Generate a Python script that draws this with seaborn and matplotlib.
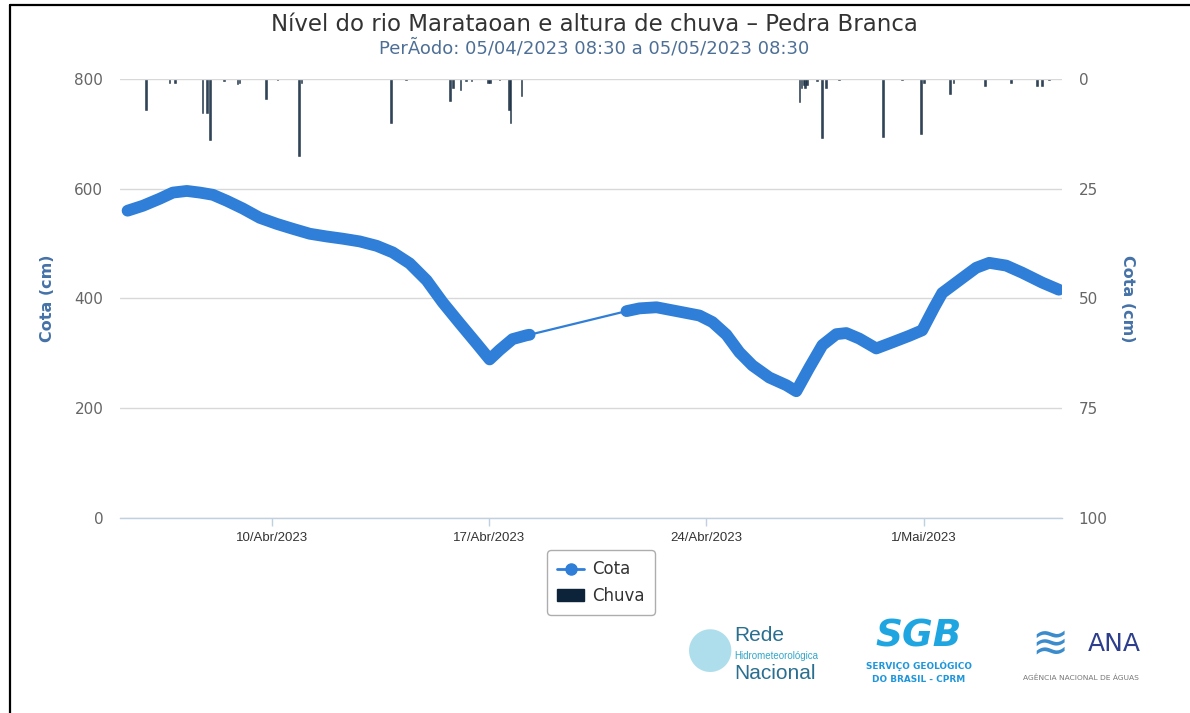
"""
Nivel do rio Marataoan e altura de chuva - Pedra Branca (recriacao).
"""

import numpy as np
import pandas as pd
import matplotlib
matplotlib.use('Agg')
import matplotlib.pyplot as plt
import seaborn as sns
from matplotlib.lines import Line2D
from matplotlib.patches import Patch

# Cota (cm) - first block of readings (before the gap)
cota_times_a = ['2023-04-05 08:30', '2023-04-05 20:20', '2023-04-06 09:30', '2023-04-06 19:30',
                '2023-04-07 06:20', '2023-04-07 16:25', '2023-04-08 02:25', '2023-04-08 13:15',
                '2023-04-09 01:35', '2023-04-09 14:45', '2023-04-10 03:50', '2023-04-10 16:15',
                '2023-04-11 05:20', '2023-04-11 18:30', '2023-04-12 06:50', '2023-04-12 20:00',
                '2023-04-13 09:05', '2023-04-13 21:30', '2023-04-14 10:35', '2023-04-14 23:45',
                '2023-04-15 12:05', '2023-04-16 01:15', '2023-04-16 14:20', '2023-04-17 00:25',
                '2023-04-17 08:05', '2023-04-17 18:10', '2023-04-18 05:00', '2023-04-18 07:20']
cota_values_a = [560, 569, 582, 593, 596, 593, 589, 578,
                 564, 547, 536, 527, 518, 513, 509, 504,
                 496, 484, 464, 433, 393, 355, 318, 289,
                 306, 326, 333, 334]

# Cota (cm) - second block of readings (after the gap)
cota_times_b = ['2023-04-21 10:15', '2023-04-21 20:15', '2023-04-22 09:25', '2023-04-23 03:10',
                '2023-04-23 18:35', '2023-04-24 04:40', '2023-04-24 15:30', '2023-04-25 01:30',
                '2023-04-25 11:35', '2023-04-26 00:40', '2023-04-26 13:50', '2023-04-26 21:30',
                '2023-04-27 07:35', '2023-04-27 17:40', '2023-04-28 04:25', '2023-04-28 12:10',
                '2023-04-28 22:10', '2023-04-29 11:20', '2023-04-29 23:40', '2023-04-30 12:50',
                '2023-04-30 22:50', '2023-05-01 08:10', '2023-05-01 14:20', '2023-05-02 03:25',
                '2023-05-02 16:35', '2023-05-03 02:40', '2023-05-03 15:45', '2023-05-04 04:10',
                '2023-05-04 19:35', '2023-05-05 08:30']
cota_values_b = [377, 382, 384, 376, 369, 357, 334, 302,
                 278, 256, 242, 231, 274, 315, 335, 337,
                 327, 309, 320, 332, 342, 384, 410, 433,
                 456, 465, 460, 447, 429, 416]

# Chuva (cm) - hourly rain totals
chuva_times = ['2023-04-05 22:30', '2023-04-06 17:00', '2023-04-06 21:00', '2023-04-07 18:30',
               '2023-04-07 22:00', '2023-04-08 00:00', '2023-04-08 11:00', '2023-04-08 21:30',
               '2023-04-08 23:00', '2023-04-09 19:30', '2023-04-10 04:30', '2023-04-10 21:00',
               '2023-04-10 23:00', '2023-04-13 20:00', '2023-04-14 08:00', '2023-04-15 18:00',
               '2023-04-15 20:00', '2023-04-16 02:00', '2023-04-16 06:00', '2023-04-16 10:30',
               '2023-04-16 23:00', '2023-04-17 00:30', '2023-04-17 08:00', '2023-04-17 15:30',
               '2023-04-17 16:30', '2023-04-18 01:00', '2023-04-27 00:00', '2023-04-27 01:30',
               '2023-04-27 03:00', '2023-04-27 04:30', '2023-04-27 06:00', '2023-04-27 13:30',
               '2023-04-27 17:30', '2023-04-27 20:30', '2023-04-28 06:30', '2023-04-29 16:30',
               '2023-04-30 07:30', '2023-04-30 22:00', '2023-05-01 00:30', '2023-05-01 20:30',
               '2023-05-01 23:00', '2023-05-02 23:30', '2023-05-03 19:30', '2023-05-04 15:30',
               '2023-05-04 19:30', '2023-05-05 01:00']
chuva_values = [7.1, 1.0, 0.8, 7.7,
                7.7, 13.9, 0.5, 1.1,
                1.0, 4.6, 0.3, 17.5,
                1.0, 10.0, 0.3, 5.0,
                2.0, 2.5, 0.4, 0.4,
                1.0, 0.8, 0.3, 7.0,
                10.0, 3.9, 5.2, 2.0,
                1.4, 2.0, 1.4, 0.4,
                13.4, 2.0, 0.3, 13.2,
                0.3, 12.5, 1.0, 3.4,
                1.0, 1.5, 0.8, 1.5,
                1.5, 0.3]

x_tick_dates = ['2023-04-10', '2023-04-17', '2023-04-24', '2023-05-01']
x_tick_labels = ['10/Abr/2023', '17/Abr/2023', '24/Abr/2023', '1/Mai/2023']
cota_ticks = [0, 200, 400, 600, 800]
chuva_ticks = [0, 25, 50, 75, 100]

COTA_COLOR = '#2f7ed8'
CHUVA_COLOR = '#0d233a'
LABEL_BLUE = '#4572a7'
TICK_GREY = '#666666'
NARROW = ['Liberation Sans Narrow', 'Liberation Sans']

sns.set_theme(style='white')
plt.rcParams['font.family'] = ['DejaVu Sans']

df_a = pd.DataFrame({'time': pd.to_datetime(cota_times_a), 'cota': cota_values_a})
df_b = pd.DataFrame({'time': pd.to_datetime(cota_times_b), 'cota': cota_values_b})
df_all = pd.concat([df_a, df_b], ignore_index=True)
df_rain = pd.DataFrame({'time': pd.to_datetime(chuva_times), 'chuva': chuva_values})

fig = plt.figure(figsize=(11.9, 7.13), dpi=100)
ax = fig.add_axes([0.1008, 0.2735, 0.7916, 0.6157])
ax2 = ax.twinx()

# rain bars hang from the top (inverted right axis)
ax2.bar(df_rain['time'], df_rain['chuva'], width=0.055, color=CHUVA_COLOR,
        edgecolor=CHUVA_COLOR, linewidth=0.4, alpha=0.85, zorder=2)
ax2.set_ylim(100, 0)

# thin connector through every reading, thick band where readings are dense
sns.lineplot(data=df_all, x='time', y='cota', ax=ax, color=COTA_COLOR, lw=1.6,
             sort=False, estimator=None, zorder=3)
for seg in (df_a, df_b):
    sns.lineplot(data=seg, x='time', y='cota', ax=ax, color=COTA_COLOR, lw=8.5,
                 sort=False, estimator=None, solid_capstyle='round',
                 solid_joinstyle='round', zorder=4)

ax.set_zorder(ax2.get_zorder() + 1)
ax.patch.set_visible(False)

start = df_all['time'].min() - pd.Timedelta(hours=5.9)
end = df_all['time'].max() + pd.Timedelta(hours=2.4)
ax.set_xlim(start, end)
ax.set_ylim(0, 800)
ax.set_yticks(cota_ticks)
ax2.set_yticks(chuva_ticks)

ax.set_xticks(pd.to_datetime(x_tick_dates))
ax.set_xticklabels(x_tick_labels)

ax.grid(axis='y', color='#d8d8d8', lw=1)
ax.grid(axis='x', visible=False)
ax2.grid(False)

for a in (ax, ax2):
    for side in ('top', 'left', 'right', 'bottom'):
        a.spines[side].set_visible(False)
ax.spines['bottom'].set_visible(True)
ax.spines['bottom'].set_color('#c0d0e0')
ax.spines['bottom'].set_linewidth(1)

ax.tick_params(axis='x', length=6, width=1, color='#c0d0e0', labelsize=9.5,
               labelcolor='#333333', pad=4, direction='out', bottom=True)
ax.tick_params(axis='y', length=0, labelsize=11, labelcolor=TICK_GREY, pad=12)
ax2.tick_params(axis='y', length=0, labelsize=11, labelcolor=TICK_GREY, pad=12)
for lab in ax.get_xticklabels():
    lab.set_family(NARROW)

ax.set_xlabel('')
ax.set_ylabel('Cota (cm)', color=LABEL_BLUE, fontsize=11.5, fontweight='bold', labelpad=14)
ax2.set_ylabel('Cota (cm)', color=LABEL_BLUE, fontsize=11.5, fontweight='bold',
               rotation=270, labelpad=20)

fig.text(0.4995, 0.965, 'Nível do rio Marataoan e altura de chuva – Pedra Branca',
         ha='center', va='center', fontsize=16.5, color='#333333')
fig.text(0.4995, 0.932, 'PerÃodo: 05/04/2023 08:30 a 05/05/2023 08:30',
         ha='center', va='center', fontsize=13, color='#4d6f96')

handles = [Line2D([0], [0], color=COTA_COLOR, lw=2, marker='o', markersize=8),
           Patch(facecolor=CHUVA_COLOR, edgecolor=CHUVA_COLOR)]
leg = fig.legend(handles, ['Cota', 'Chuva'], loc='center', bbox_to_anchor=(0.505, 0.183),
                 frameon=True, fancybox=True, fontsize=12, handlelength=1.6,
                 handletextpad=0.5, borderpad=0.6, labelspacing=0.5)
leg.get_frame().set_edgecolor('#999999')
leg.get_frame().set_linewidth(1)
for t in leg.get_texts():
    t.set_color('#333333')

# logos (approximated with text)
fig.text(0.617, 0.108, 'Rede', fontsize=15, color='#2a6f8f', va='center', family=NARROW)
fig.text(0.617, 0.080, 'Hidrometeorológica', fontsize=7, color='#32a6c8', va='center',
         family=NARROW)
fig.text(0.617, 0.055, 'Nacional', fontsize=15, color='#2a6f8f', va='center', family=NARROW)
fig.text(0.597, 0.088, '●', fontsize=40, color='#6cc3dc', alpha=0.55, ha='center', va='center')

fig.text(0.772, 0.107, 'SGB', fontsize=27, fontweight='bold', color='#1fa5e0',
         ha='center', va='center', style='italic')
fig.text(0.772, 0.066, 'SERVIÇO GEOLÓGICO', fontsize=6.4, fontweight='bold',
         color='#1e96dc', ha='center', va='center')
fig.text(0.772, 0.047, 'DO BRASIL - CPRM', fontsize=6.4, fontweight='bold',
         color='#1e96dc', ha='center', va='center')

fig.text(0.882, 0.097, '≋', fontsize=32, color='#3a8ccc', ha='center', va='center')
fig.text(0.936, 0.097, 'ANA', fontsize=18, color='#2c3e8c', ha='center', va='center')
fig.text(0.908, 0.050, 'AGÊNCIA NACIONAL DE ÁGUAS', fontsize=5.4, color='#777777',
         ha='center', va='center')

# screenshot frame (left and top edges)
fig.add_artist(Line2D([0.0084, 0.0084], [0.0, 0.993], color='black', lw=1.6,
                      transform=fig.transFigure))
fig.add_artist(Line2D([0.0084, 1.0], [0.993, 0.993], color='black', lw=1.6,
                      transform=fig.transFigure))

fig.savefig('out.png', dpi=100)
plt.close(fig)
